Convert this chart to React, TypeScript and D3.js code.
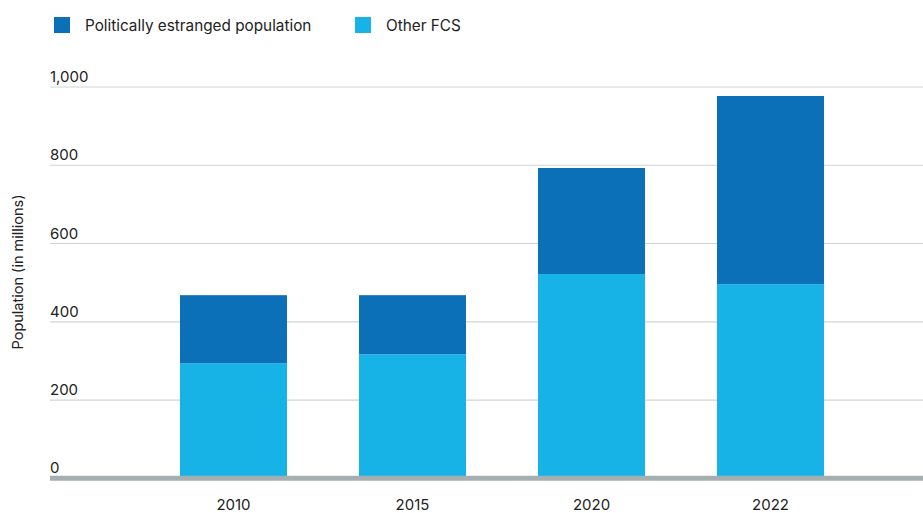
import React from "react";
import * as d3 from "d3";

const years = ["2010", "2015", "2020", "2022"];
const otherFCS = [294, 317, 522, 496];
const estranged = [174, 151, 271, 481];
const yTicks = [0, 200, 400, 600, 800, 1000];
const seriesNames = ["Politically estranged population", "Other FCS"];

const W = 923;
const H = 513;
const DARK = "#0b70b8";
const LIGHT = "#17b2e6";
const FONT = "Inter, 'Open Sans', sans-serif";

export default function App() {
  const x = d3.scaleBand<string>().domain(years).range([144, 860]).paddingInner(0.402).paddingOuter(0.201);
  const y = d3.scaleLinear().domain([0, 1000]).range([478.3, 87]);
  const rows = years.map((yr, i) => ({ year: yr, other: otherFCS[i], estranged: estranged[i] }));
  const stack = d3.stack<any>().keys(["other", "estranged"])(rows);
  const colors: Record<string, string> = { other: LIGHT, estranged: DARK };
  const fmt = d3.format(",");

  return (
    <svg width={W} height={H} style={{ position: "absolute", left: 0, top: 0, background: "#fff" }} fontFamily={FONT}>
      {/* legend */}
      <rect x={54} y={17} width={16} height={16} fill={DARK} />
      <text x={85} y={31} fontSize={15.3} fill="#222">{seriesNames[0]}</text>
      <rect x={355} y={17} width={16} height={16} fill={LIGHT} />
      <text x={386} y={31} fontSize={15.3} fill="#222">{seriesNames[1]}</text>

      {/* gridlines and tick labels */}
      {yTicks.map((t) => (
        <g key={t}>
          {t !== 0 && (
            <line x1={50} x2={W} y1={y(t)} y2={y(t)} stroke="#cfd5d6" strokeWidth={1.2} />
          )}
          <text x={50} y={y(t) - 5} fontSize={15} fill="#222">{fmt(t)}</text>
        </g>
      ))}

      {/* y-axis title */}
      <text
        transform={`translate(23, 272) rotate(-90)`}
        textAnchor="middle"
        fontSize={14.5}
        fill="#222"
      >
        Population (in millions)
      </text>

      {/* bars */}
      {stack.map((s) => (
        <g key={s.key} fill={colors[s.key]}>
          {s.map((d: any) => (
            <rect
              key={d.data.year}
              x={x(d.data.year)}
              width={x.bandwidth()}
              y={y(d[1])}
              height={y(d[0]) - y(d[1])}
            />
          ))}
        </g>
      ))}

      {/* baseline */}
      <line x1={50} x2={W} y1={y(0)} y2={y(0)} stroke="#a3afb0" strokeWidth={5} />

      {/* x labels */}
      {years.map((yr) => (
        <text key={yr} x={(x(yr) || 0) + x.bandwidth() / 2} y={510} textAnchor="middle" fontSize={15} fill="#222">
          {yr}
        </text>
      ))}
    </svg>
  );
}
